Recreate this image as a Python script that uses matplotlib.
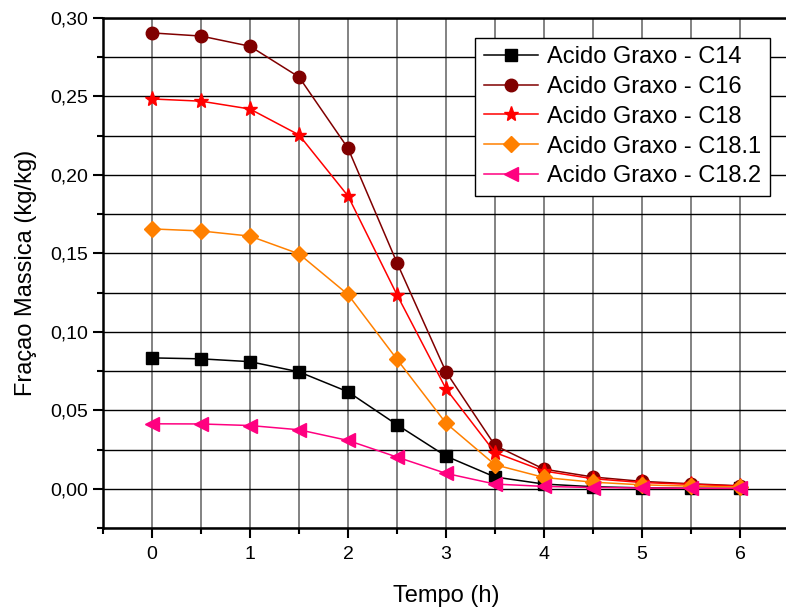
import matplotlib
matplotlib.use('Agg')
import matplotlib.pyplot as plt
from matplotlib.ticker import MultipleLocator, FuncFormatter

plt.rcParams['font.family'] = ['Liberation Sans', 'DejaVu Sans']

# Data
tempo = [0, 0.5, 1, 1.5, 2, 2.5, 3, 3.5, 4, 4.5, 5, 5.5, 6]
c14 = [0.0834, 0.0828, 0.0810, 0.0745, 0.0618, 0.0408, 0.0208, 0.0075, 0.0030, 0.0013, 0.0006, 0.0003, 0.0002]
c16 = [0.2905, 0.2885, 0.2820, 0.2624, 0.2170, 0.1440, 0.0745, 0.0276, 0.0125, 0.0075, 0.0047, 0.0032, 0.0019]
c18 = [0.2484, 0.2470, 0.2420, 0.2255, 0.1866, 0.1236, 0.0637, 0.0231, 0.0113, 0.0064, 0.0040, 0.0028, 0.0017]
c18_1 = [0.1656, 0.1643, 0.1610, 0.1497, 0.1238, 0.0825, 0.0418, 0.0153, 0.0072, 0.0042, 0.0025, 0.0017, 0.0011]
c18_2 = [0.0414, 0.0413, 0.0403, 0.0376, 0.0308, 0.0202, 0.0098, 0.0030, 0.0015, 0.0008, 0.0005, 0.0003, 0.0002]

labels = ['Acido Graxo - C14', 'Acido Graxo - C16', 'Acido Graxo - C18',
          'Acido Graxo - C18.1', 'Acido Graxo - C18.2']
series = [c14, c16, c18, c18_1, c18_2]
colors = ['#000000', '#800000', '#FF0000', '#FF8000', '#FF0080']
markers = ['s', 'o', '*', 'D', '<']
sizes = [8.5, 9, 11, 8, 9.5]

fig = plt.figure(figsize=(7.86, 6.09), dpi=100)
# right spine falls just outside the picture, like the reference
ax = fig.add_axes([103 / 786, (609 - 528) / 609, (789 - 103) / 786, (528 - 18) / 609])

for y, lab, c, m, s in zip(series, labels, colors, markers, sizes):
    ax.plot(tempo, y, color=c, marker=m, markersize=s, linewidth=1.1, label=lab,
            markeredgecolor=c, markerfacecolor=c)

ax.set_xlim(-0.5, 6.5)
ax.set_ylim(-0.025, 0.30)

ax.xaxis.set_major_locator(MultipleLocator(1))
ax.xaxis.set_minor_locator(MultipleLocator(0.5))
ax.yaxis.set_major_locator(MultipleLocator(0.05))
ax.yaxis.set_minor_locator(MultipleLocator(0.025))
ax.yaxis.set_major_formatter(FuncFormatter(lambda v, p: ('%.2f' % v).replace('.', ',')))

ax.grid(True, which='both', axis='x', color='#606060', linewidth=1.1)
ax.grid(True, which='both', axis='y', color='#000000', linewidth=1.0)
ax.set_axisbelow(True)

ax.tick_params(axis='both', which='major', direction='out', length=7, width=1.5,
               labelsize=14, top=False, right=False)
ax.tick_params(axis='x', which='major', pad=6)
ax.tick_params(axis='both', which='minor', direction='out', length=4, width=1.5,
               top=False, right=False)
for sp in ax.spines.values():
    sp.set_linewidth(1.8)

ax.set_xlabel('Tempo (h)', fontsize=17, labelpad=16)
ax.set_ylabel('Fraçao Massica (kg/kg)', fontsize=17, labelpad=10)

leg = ax.legend(loc='upper right', bbox_to_anchor=(0.972, 0.961), borderaxespad=0,
                fontsize=17, fancybox=False, edgecolor='black', framealpha=1,
                labelspacing=0.33, handlelength=2.3, handletextpad=0.4,
                borderpad=0.35)
leg.get_frame().set_linewidth(1.0)

fig.savefig('out.png', dpi=100)
